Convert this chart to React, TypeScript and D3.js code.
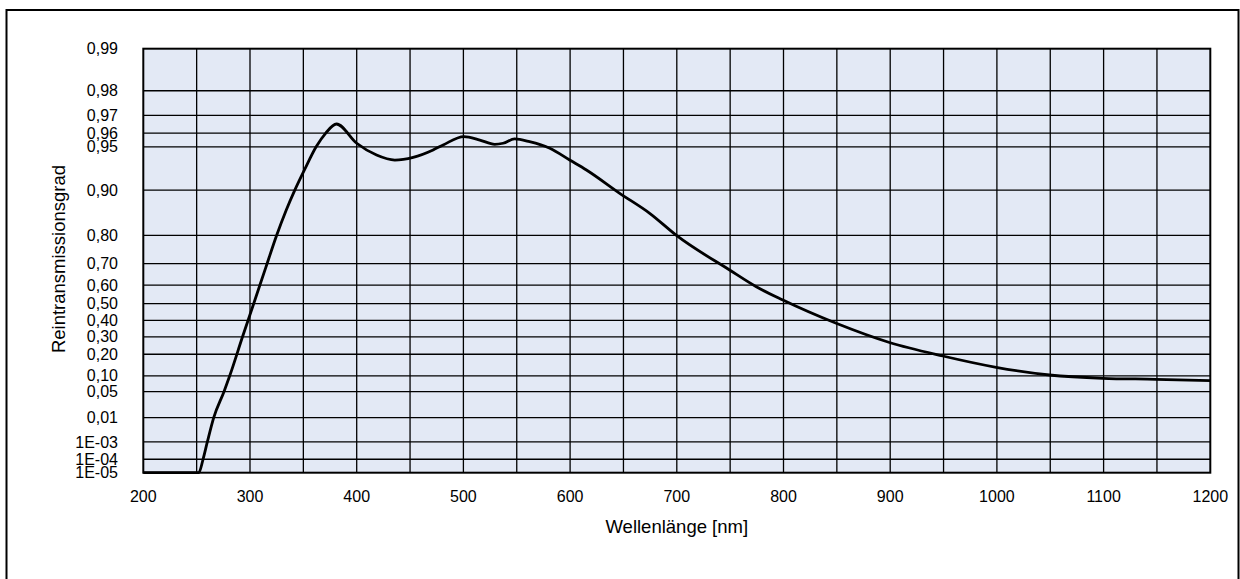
import React from "react";
import * as d3 from "d3";

// Data
const wavelengths = [200, 252, 256, 260, 266, 275.6, 281, 293, 304.6, 315, 325, 334, 342, 351, 362, 371, 381, 400, 418.6, 435.7, 452.9, 471.6, 481, 500.5, 515.4, 529.4, 537.2, 548, 562, 581, 599.6, 615.3, 646.5, 674.6, 700, 749.5, 774.5, 799.4, 849.4, 899.3, 949.3, 999.3, 1049.2, 1099.1, 1149, 1200];
const transmission = [1e-5, 1e-5, 1e-4, 1e-3, 0.01, 0.05, 0.1, 0.3, 0.52, 0.686, 0.8, 0.8637, 0.9, 0.9274, 0.95, 0.96, 0.9655, 0.9528, 0.9429, 0.9381, 0.9407, 0.9474, 0.9515, 0.9576, 0.9552, 0.952, 0.9528, 0.956, 0.954, 0.9488, 0.9381, 0.9274, 0.8949, 0.8566, 0.799, 0.6723, 0.592, 0.52, 0.382, 0.266, 0.1908, 0.1355, 0.1032, 0.0908, 0.0872, 0.0823];

const xTicks = [200, 300, 400, 500, 600, 700, 800, 900, 1000, 1100, 1200];
const xGrid = [250, 300, 350, 400, 450, 500, 550, 600, 650, 700, 750, 800, 850, 900, 950, 1000, 1050, 1100, 1150];
const yTickValues = [0.99, 0.98, 0.97, 0.96, 0.95, 0.9, 0.8, 0.7, 0.6, 0.5, 0.4, 0.3, 0.2, 0.1, 0.05, 0.01, 1e-3, 1e-4, 1e-5];
const yTickLabels = ["0,99", "0,98", "0,97", "0,96", "0,95", "0,90", "0,80", "0,70", "0,60", "0,50", "0,40", "0,30", "0,20", "0,10", "0,05", "0,01", "1E-03", "1E-04", "1E-05"];

const W = 1240;
const H = 579;
const left = 143.3;
const right = 1210.3;
const top = 48.7;
const bottom = 472.7;
const FONT = "Liberation Sans, Arial, sans-serif";

// ln(-ln(T)) transform
const g = (t: number) => Math.log(-Math.log(t));

export default function App() {
  const x = d3.scaleLinear().domain([200, 1200]).range([left, right]);
  const yLin = d3.scaleLinear().domain([g(0.99), g(1e-5)]).range([top, bottom]);
  const y = (t: number) => yLin(g(t));

  const pts: [number, number][] = wavelengths.map((w, i) => [w, transmission[i]]);
  const line = d3
    .line<[number, number]>()
    .x((d) => x(d[0]))
    .y((d) => y(d[1]))
    .curve(d3.curveMonotoneX);

  return (
    <svg
      width={W}
      height={H}
      style={{ position: "absolute", left: 0, top: 0, background: "#fff" }}
      fontFamily={FONT}
    >
      <rect x={6.5} y={10} width={1232} height={600} fill="none" stroke="#000" strokeWidth={2} />
      <rect x={left} y={top} width={right - left} height={bottom - top} fill="#E3E9F5" />
      {xGrid.map((v) => (
        <line key={"vx" + v} x1={x(v)} x2={x(v)} y1={top} y2={bottom} stroke="#000" strokeWidth={1.3} />
      ))}
      {yTickValues.slice(1, -1).map((v) => (
        <line key={"hy" + v} x1={left} x2={right} y1={y(v)} y2={y(v)} stroke="#000" strokeWidth={1.3} />
      ))}
      <rect x={left} y={top} width={right - left} height={bottom - top} fill="none" stroke="#000" strokeWidth={2} />
      <path d={line(pts) || ""} fill="none" stroke="#000" strokeWidth={2.8} strokeLinejoin="round" />
      {yTickValues.map((v, i) => (
        <text key={"yl" + i} x={118} y={y(v)} dy="0.35em" textAnchor="end" fontSize={16}>
          {yTickLabels[i]}
        </text>
      ))}
      {xTicks.map((v) => (
        <text key={"xl" + v} x={x(v)} y={502} textAnchor="middle" fontSize={16}>
          {v}
        </text>
      ))}
      <text x={(left + right) / 2} y={533} textAnchor="middle" fontSize={18.5}>
        Wellenlänge [nm]
      </text>
      <text transform={`translate(65,259) rotate(-90)`} textAnchor="middle" fontSize={18.5}>
        Reintransmissionsgrad
      </text>
    </svg>
  );
}
